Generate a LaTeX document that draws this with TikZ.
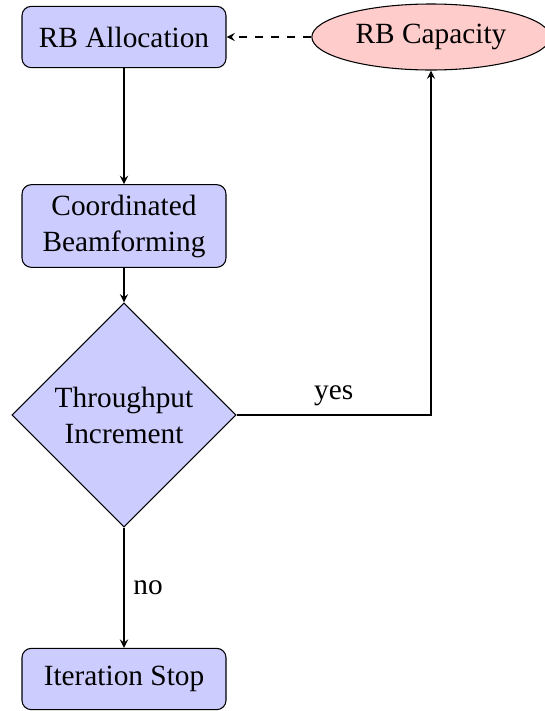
\documentclass[tikz,border=0pt]{standalone}
\usepackage{fontspec}
\setmainfont{Liberation Serif}
\usetikzlibrary{shapes.geometric,arrows}
\begin{document}
\begin{tikzpicture}[x=0.375pt,y=-0.375pt,
  every node/.style={font=\fontsize{11}{13.5}\selectfont},
  box/.style={draw, rectangle, rounded corners=3.5pt, fill=blue!20, minimum width=76.5pt, minimum height=23pt, align=center},
  dec/.style={draw, diamond, fill=blue!20, minimum width=84pt, minimum height=84pt, inner sep=0pt, align=center},
  capnode/.style={draw, ellipse, fill=red!20, minimum width=86pt, minimum height=24.75pt},
  conn/.style={draw, -stealth}
]
\useasboundingbox (0,0) rectangle (544,711);
\node[box] (alloc) at (124,37) {RB Allocation};
\node[capnode] (capa) at (431,37) {RB Capacity};
\node[box, minimum height=31pt] (beam) at (124,226) {Coordinated\\Beamforming};
\node[dec] (thr) at (124,415) {Throughput\\Increment};
\node[box] (stop) at (124,679) {Iteration Stop};
\draw[conn] (alloc) -- (beam);
\draw[conn] (beam) -- (thr);
\draw[conn] (thr) -- node[right] {no} (stop);
\draw[conn] (thr.east) -| node[pos=0.25, above] {yes} (capa.south);
\draw[conn, dashed] (capa) -- (alloc);
\end{tikzpicture}
\end{document}
